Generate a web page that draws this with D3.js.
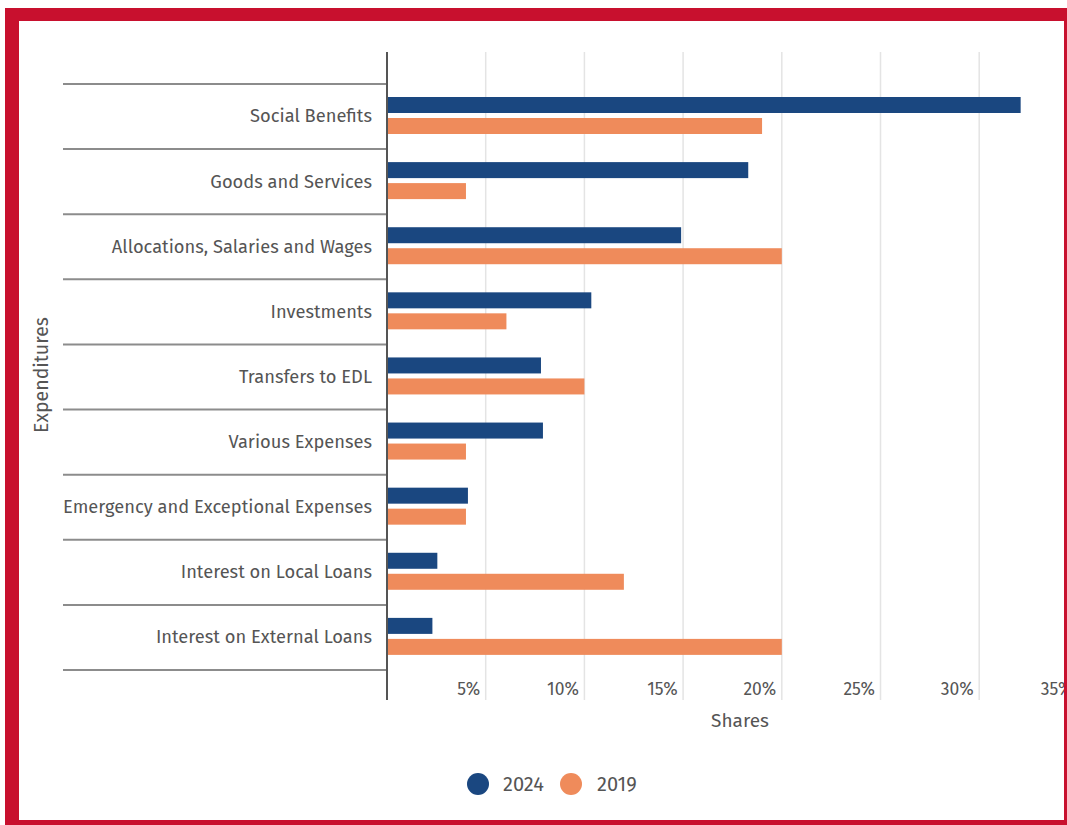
<!DOCTYPE html>
<html>
<head>
<meta charset="utf-8">
<script src="https://cdn.jsdelivr.net/npm/d3@7"></script>
<style>
  html, body { margin: 0; padding: 0; background: #fff; }
  svg { display: block; }
  text { font-family: "Fira Sans", "Open Sans", "Noto Sans", sans-serif; fill: #555; }
</style>
</head>
<body>
<svg id="chart" width="1067" height="825"></svg>
<script>
// Expenditure categories, top to bottom
const categories = [
  "Social Benefits",
  "Goods and Services",
  "Allocations, Salaries and Wages",
  "Investments",
  "Transfers to EDL",
  "Various Expenses",
  "Emergency and Exceptional Expenses",
  "Interest on Local Loans",
  "Interest on External Loans"
];
// Share of total expenditures (%)
const values2024 = [32.1, 18.3, 14.9, 10.35, 7.8, 7.9, 4.1, 2.55, 2.3];
const values2019 = [19.0, 4.0, 20.0, 6.05, 10.0, 4.0, 4.0, 12.0, 20.0];
const seriesNames = ["2024", "2019"];
const seriesColors = ["#1a4780", "#ef8b5b"];
const tickValues = [5, 10, 15, 20, 25, 30, 35];

const svg = d3.select("#chart");
const W = 1067, H = 825;
const FONT = "'Fira Sans','Open Sans','Noto Sans',sans-serif";

// red frame
svg.append("rect").attr("x", 5).attr("y", 8).attr("width", W - 5).attr("height", H - 8).attr("fill", "#c8102e");
svg.append("rect").attr("x", 19).attr("y", 21).attr("width", 1045).attr("height", 799).attr("fill", "#fff");

const x0 = 387;
const x = d3.scaleLinear().domain([0, 35]).range([x0, x0 + 35 * 19.74]);
const y = d3.scaleBand().domain(categories).range([84, 670]).padding(0);
const ySub = d3.scaleBand().domain(seriesNames).range([13, 50]).paddingInner(0.238).paddingOuter(0);

const plotTop = 52, plotBottom = 700;

// vertical gridlines
svg.append("g").selectAll("line").data(tickValues).join("line")
  .attr("x1", d => x(d)).attr("x2", d => x(d))
  .attr("y1", plotTop).attr("y2", plotBottom)
  .attr("stroke", "#e4e4e4").attr("stroke-width", 1.5);

// category separators
const bounds = categories.map(c => y(c)).concat([y.range()[1]]);
svg.append("g").selectAll("line").data(bounds).join("line")
  .attr("x1", 63).attr("x2", x0)
  .attr("y1", d => d).attr("y2", d => d)
  .attr("stroke", "#8c8c8c").attr("stroke-width", 2);

// bars
const rows = categories.map((c, i) => ({ c, v: [values2024[i], values2019[i]] }));
const grp = svg.append("g").selectAll("g").data(rows).join("g")
  .attr("transform", d => `translate(0,${y(d.c)})`);
grp.selectAll("rect").data(d => d.v.map((v, k) => ({ v, k }))).join("rect")
  .attr("x", x(0))
  .attr("y", d => ySub(seriesNames[d.k]))
  .attr("width", d => x(d.v) - x(0))
  .attr("height", ySub.bandwidth())
  .attr("fill", d => seriesColors[d.k]);

// y axis line
svg.append("line").attr("x1", x0).attr("x2", x0).attr("y1", plotTop).attr("y2", plotBottom)
  .attr("stroke", "#555").attr("stroke-width", 2);

// category labels
const yAxis = svg.append("g").attr("transform", `translate(${x0},0)`)
  .call(d3.axisLeft(y).tickSize(0).tickPadding(15));
yAxis.select(".domain").remove();
yAxis.selectAll("text").style("font-size", "18.3px").style("fill", "#555").style("font-family", FONT);

// x tick labels
const xAxis = svg.append("g").attr("transform", `translate(0,683)`)
  .call(d3.axisBottom(x).tickValues(tickValues).tickFormat(d => d + "%").tickSize(0).tickPadding(0));
xAxis.select(".domain").remove();
xAxis.selectAll("text").attr("text-anchor", "end").attr("dx", -6)
  .style("font-size", "17.5px").style("fill", "#555").style("font-family", FONT);

// axis titles
svg.append("text").attr("x", 740).attr("y", 727).attr("text-anchor", "middle")
  .style("font-size", "19px").text("Shares");
svg.append("text").attr("transform", "translate(48,375) rotate(-90)").attr("text-anchor", "middle")
  .style("font-size", "19.5px").text("Expenditures");

// legend
const legendItems = [{ name: "2024", cx: 478, tx: 503 }, { name: "2019", cx: 571, tx: 597 }];
const lg = svg.append("g").selectAll("g").data(legendItems).join("g");
lg.append("circle").attr("cx", d => d.cx).attr("cy", 784).attr("r", 11)
  .attr("fill", (d, i) => seriesColors[i]);
lg.append("text").attr("x", d => d.tx).attr("y", 791).style("font-size", "20px").text(d => d.name);

// right frame edge
svg.append("rect").attr("x", 1064).attr("y", 8).attr("width", 3).attr("height", H - 8).attr("fill", "#c8102e");
</script>
</body>
</html>
